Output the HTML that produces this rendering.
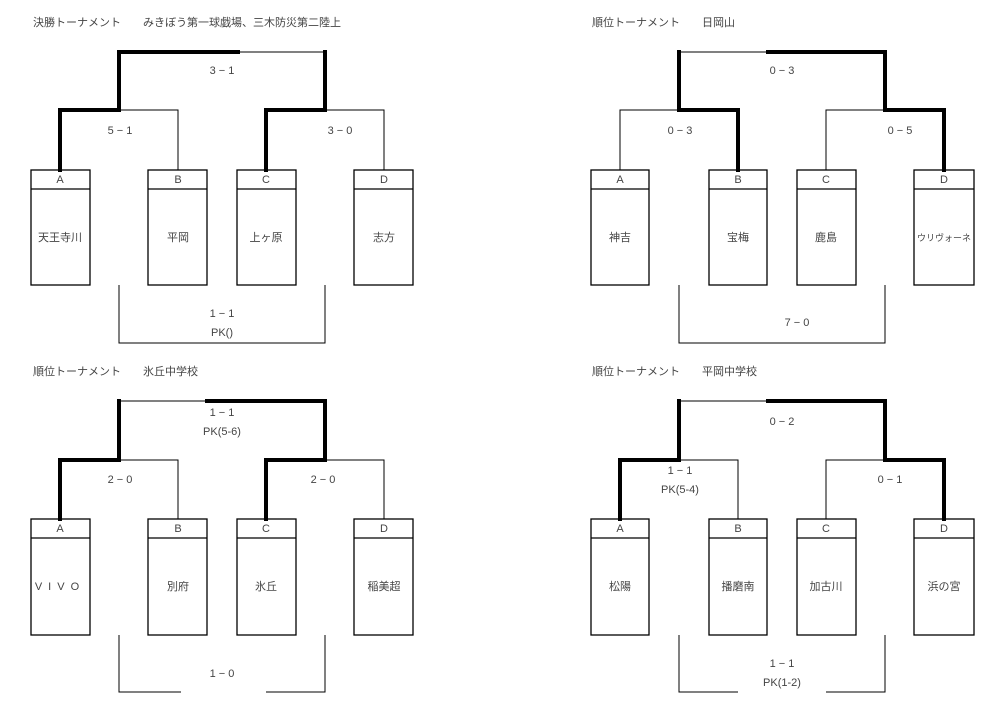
<!DOCTYPE html>
<html><head><meta charset="utf-8"><style>
html,body{margin:0;padding:0;background:#fff;width:1000px;height:726px;overflow:hidden}
svg{display:block}
text{font-family:"Liberation Sans","Noto Sans CJK JP",sans-serif;font-size:11px;fill:#444}
.t{stroke:#000;stroke-width:1;fill:none}
.k{stroke:#000;stroke-width:4;fill:none;stroke-linecap:square}
.b{stroke:#000;stroke-width:1.3;fill:none}
</style></head><body>
<svg width="1000" height="726" viewBox="0 0 1000 726" xmlns="http://www.w3.org/2000/svg">
<!-- Panel 1 -->
<text x="33" y="26">決勝トーナメント　　みきぼう第一球戯場、三木防災第二陸上</text>
<path class="t" d="M238 52H325 M119 110H178V170 M325 110H384V170 M119 285V343H325V285"/>
<path class="k" d="M238 52H119V110H60V170 M325 52V110H266V170"/>
<g class="b">
<rect x="31" y="170" width="59" height="115"/><line x1="31" y1="189" x2="90" y2="189"/>
<rect x="148" y="170" width="59" height="115"/><line x1="148" y1="189" x2="207" y2="189"/>
<rect x="237" y="170" width="59" height="115"/><line x1="237" y1="189" x2="296" y2="189"/>
<rect x="354" y="170" width="59" height="115"/><line x1="354" y1="189" x2="413" y2="189"/>
</g>
<g text-anchor="middle">
<text x="60" y="183">A</text><text x="178" y="183">B</text><text x="266" y="183">C</text><text x="384" y="183">D</text>
<text x="60" y="241">天王寺川</text><text x="178" y="241">平岡</text><text x="266" y="241">上ヶ原</text><text x="384" y="241">志方</text>
<text x="222" y="74">3 − 1</text><text x="120" y="134">5 − 1</text><text x="340" y="134">3 − 0</text>
<text x="222" y="317">1 − 1</text><text x="222" y="336">PK()</text>
</g>
<!-- Panel 2 -->
<text x="592" y="26">順位トーナメント　　日岡山</text>
<path class="t" d="M679 52H768 M679 110H620V170 M885 110H826V170 M679 285V343H885V285"/>
<path class="k" d="M768 52H885V110H944V170 M679 52V110H738V170"/>
<g class="b">
<rect x="591" y="170" width="58" height="115"/><line x1="591" y1="189" x2="649" y2="189"/>
<rect x="709" y="170" width="58" height="115"/><line x1="709" y1="189" x2="767" y2="189"/>
<rect x="797" y="170" width="59" height="115"/><line x1="797" y1="189" x2="856" y2="189"/>
<rect x="914" y="170" width="60" height="115"/><line x1="914" y1="189" x2="974" y2="189"/>
</g>
<g text-anchor="middle">
<text x="620" y="183">A</text><text x="738" y="183">B</text><text x="826" y="183">C</text><text x="944" y="183">D</text>
<text x="620" y="241">神吉</text><text x="738" y="241">宝梅</text><text x="826" y="241">鹿島</text><text x="944" y="241" style="font-size:9px">ウリヴォーネ</text>
<text x="782" y="74">0 − 3</text><text x="680" y="134">0 − 3</text><text x="900" y="134">0 − 5</text>
<text x="797" y="326">7 − 0</text>
</g>
<!-- Panel 3 -->
<text x="33" y="375">順位トーナメント　　氷丘中学校</text>
<path class="t" d="M119 401H207 M119 460H178V519 M325 460H384V519 M119 635V692H181 M266 692H325V635"/>
<path class="k" d="M207 401H325V460H266V519 M119 401V460H60V519"/>
<g class="b">
<rect x="31" y="519" width="59" height="116"/><line x1="31" y1="538" x2="90" y2="538"/>
<rect x="148" y="519" width="59" height="116"/><line x1="148" y1="538" x2="207" y2="538"/>
<rect x="237" y="519" width="59" height="116"/><line x1="237" y1="538" x2="296" y2="538"/>
<rect x="354" y="519" width="59" height="116"/><line x1="354" y1="538" x2="413" y2="538"/>
</g>
<g text-anchor="middle">
<text x="60" y="532">A</text><text x="178" y="532">B</text><text x="266" y="532">C</text><text x="384" y="532">D</text>
<text x="60" y="590" letter-spacing="6">VIVO</text><text x="178" y="590">別府</text><text x="266" y="590">氷丘</text><text x="384" y="590">稲美超</text>
<text x="222" y="416">1 − 1</text><text x="222" y="435">PK(5-6)</text>
<text x="120" y="483">2 − 0</text><text x="323" y="483">2 − 0</text>
<text x="222" y="677">1 − 0</text>
</g>
<!-- Panel 4 -->
<text x="592" y="375">順位トーナメント　　平岡中学校</text>
<path class="t" d="M679 401H768 M679 460H738V519 M885 460H826V519 M679 635V692H738 M826 692H885V635"/>
<path class="k" d="M768 401H885V460H944V519 M679 401V460H620V519"/>
<g class="b">
<rect x="591" y="519" width="58" height="116"/><line x1="591" y1="538" x2="649" y2="538"/>
<rect x="709" y="519" width="58" height="116"/><line x1="709" y1="538" x2="767" y2="538"/>
<rect x="797" y="519" width="59" height="116"/><line x1="797" y1="538" x2="856" y2="538"/>
<rect x="914" y="519" width="60" height="116"/><line x1="914" y1="538" x2="974" y2="538"/>
</g>
<g text-anchor="middle">
<text x="620" y="532">A</text><text x="738" y="532">B</text><text x="826" y="532">C</text><text x="944" y="532">D</text>
<text x="620" y="590">松陽</text><text x="738" y="590">播磨南</text><text x="826" y="590">加古川</text><text x="944" y="590">浜の宮</text>
<text x="782" y="425">0 − 2</text>
<text x="680" y="474">1 − 1</text><text x="680" y="493">PK(5-4)</text>
<text x="890" y="483">0 − 1</text>
<text x="782" y="667">1 − 1</text><text x="782" y="686">PK(1-2)</text>
</g>
</svg>
</body></html>
